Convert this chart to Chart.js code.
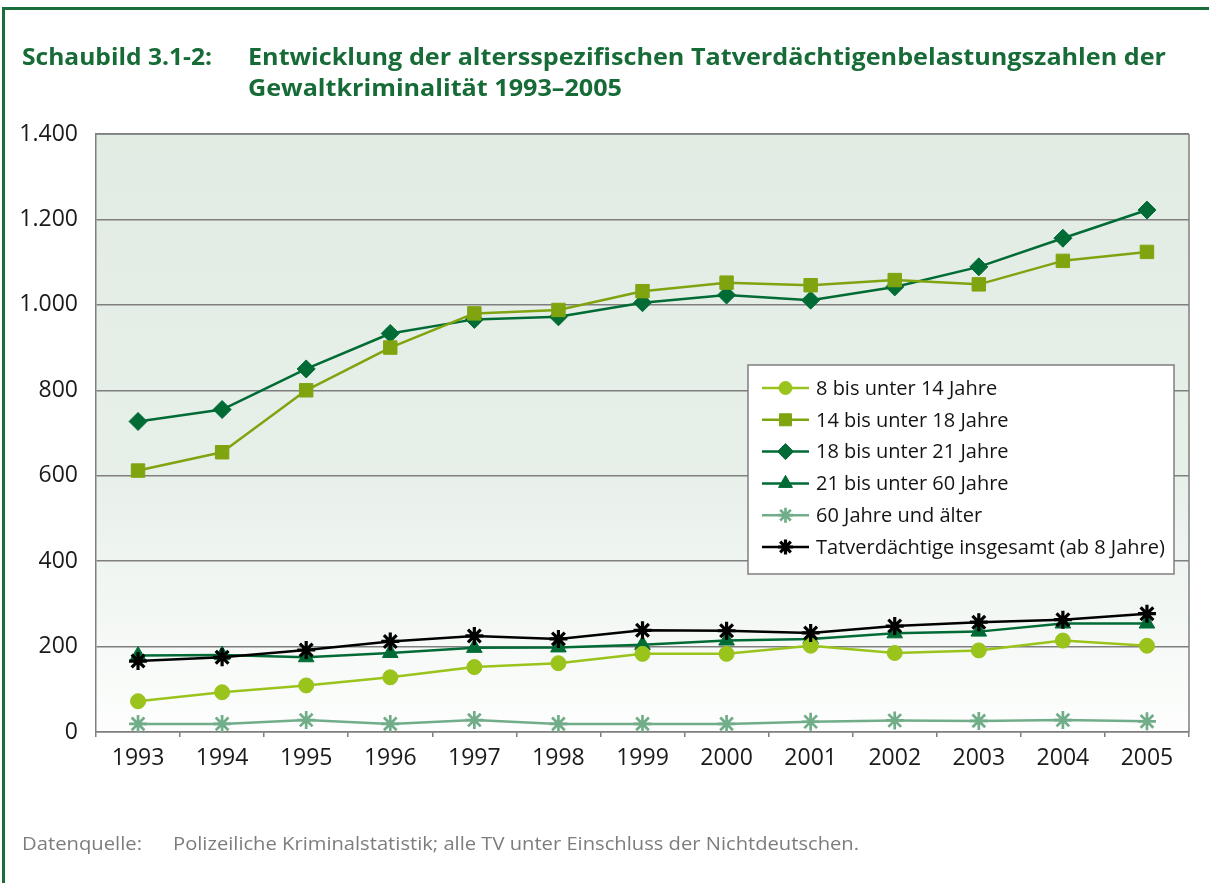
<!DOCTYPE html>
<html><head><meta charset="utf-8">
<script src="https://cdn.jsdelivr.net/npm/chart.js@4.4.1/dist/chart.umd.min.js"></script>
<style>
html,body{margin:0;padding:0;background:#fff;width:1209px;height:883px;overflow:hidden;font-family:"Open Sans",sans-serif;}
#frame{position:absolute;left:2px;top:7px;width:1230px;height:900px;border-top:3px solid #1b6e3c;border-left:3px solid #1b6e3c;}
#chartwrap{position:absolute;left:0;top:0;width:1209px;height:883px;}
.t{position:absolute;white-space:nowrap;transform-origin:0 50%;display:inline-block;}
.title{color:#176b37;font-weight:700;font-size:23.5px;line-height:31px;}
.foot{color:#7d7d7d;font-size:18.5px;line-height:24px;}
</style></head><body>
<div id="frame"></div>
<div id="chartwrap"><canvas id="c" width="1209" height="883"></canvas></div>
<div class="t title" data-w="190" style="left:22px;top:41px">Schaubild 3.1-2:</div>
<div class="t title" data-w="918" style="left:248px;top:41px">Entwicklung der altersspezifischen Tatverdächtigenbelastungszahlen der</div>
<div class="t title" data-w="374" style="left:248px;top:72px">Gewaltkriminalität 1993–2005</div>
<div class="t foot" data-w="120" style="left:22px;top:831px">Datenquelle:</div>
<div class="t foot" data-w="686" style="left:173px;top:831px">Polizeiliche Kriminalstatistik; alle TV unter Einschluss der Nichtdeutschen.</div>
<script>
const years = ['1993','1994','1995','1996','1997','1998','1999','2000','2001','2002','2003','2004','2005'];
const yTickLabels = ['0','200','400','600','800','1.000','1.200','1.400'];
const seriesNames = ['8 bis unter 14 Jahre','14 bis unter 18 Jahre','18 bis unter 21 Jahre','21 bis unter 60 Jahre','60 Jahre und älter','Tatverdächtige insgesamt (ab 8 Jahre)'];
const age8to14  = [72, 93, 109, 128, 152, 161, 183, 183, 202, 185, 191, 214, 202];
const age14to18 = [612, 655, 800, 900, 980, 988, 1032, 1052, 1046, 1058, 1048, 1103, 1124];
const age18to21 = [727, 755, 850, 933, 966, 972, 1005, 1023, 1011, 1042, 1089, 1156, 1222];
const age21to60 = [179, 180, 175, 185, 197, 198, 204, 214, 218, 231, 235, 254, 254];
const age60plus = [19, 19, 28, 19, 28, 19, 19, 19, 24, 27, 26, 28, 25];
const totalAll  = [166, 175, 192, 212, 225, 218, 238, 237, 232, 248, 257, 263, 277];

document.querySelectorAll('.t[data-w]').forEach(el=>{
  const w = el.getBoundingClientRect().width;
  const target = +el.dataset.w;
  if (w>0) el.style.transform = 'scaleX(' + (target/w) + ')';
});

function ds(label, data, color, style, radius, bw, order){
  return {label, data, borderColor:color, backgroundColor:color, pointBackgroundColor:color,
    pointBorderColor:color, pointStyle:style, pointRadius:radius, pointHoverRadius:radius,
    pointBorderWidth:bw, borderWidth:2.5, tension:0, order, fill:false};
}
const datasets = [
  ds(seriesNames[0], age8to14, '#9ac31c', 'circle', 7.5, 1, 2),
  ds(seriesNames[1], age14to18, '#7fa40f', 'rect', 9.5, 1, 1),
  ds(seriesNames[2], age18to21, '#006b35', 'rectRot', 9, 1, 4),
  ds(seriesNames[3], age21to60, '#006b35', 'triangle', 9, 1, 3),
  ds(seriesNames[4], age60plus, '#72ad89', 'star', 9, 2.7, 5),
  ds(seriesNames[5], totalAll, '#000000', 'star', 9, 3.2, 0)
];

const bgPlugin = {
  id:'bg',
  beforeDraw(chart){
    const {ctx, chartArea:a} = chart;
    const g = ctx.createLinearGradient(0, a.top, 0, a.bottom);
    g.addColorStop(0, '#e1ece3');
    g.addColorStop(0.55, '#e7efe9');
    g.addColorStop(1, '#fdfefd');
    ctx.save(); ctx.fillStyle = g; ctx.fillRect(a.left, a.top, a.right-a.left, a.bottom-a.top); ctx.restore();
  },
  beforeDatasetsDraw(chart){
    const {ctx, chartArea:a} = chart;
    ctx.save(); ctx.strokeStyle = '#7f7f7f'; ctx.lineWidth = 1.5;
    ctx.beginPath(); ctx.moveTo(a.right, a.top); ctx.lineTo(a.right, a.bottom); ctx.stroke();
    ctx.beginPath(); ctx.moveTo(a.left, a.top); ctx.lineTo(a.right, a.top); ctx.stroke();
    ctx.restore();
  }
};

const legendPlugin = {
  id:'customLegend',
  afterDraw(chart){
    const ctx = chart.ctx;
    const box = {x:748, y:365, w:426, h:209};
    ctx.save();
    ctx.fillStyle = '#ffffff'; ctx.fillRect(box.x, box.y, box.w, box.h);
    ctx.strokeStyle = '#7f7f7f'; ctx.lineWidth = 1.5; ctx.strokeRect(box.x, box.y, box.w, box.h);
    chart.data.datasets.forEach((d, i)=>{
      const y = 388 + i*31.8;
      ctx.strokeStyle = d.borderColor; ctx.lineWidth = 2.5;
      ctx.beginPath(); ctx.moveTo(762, y); ctx.lineTo(809, y); ctx.stroke();
      ctx.fillStyle = d.backgroundColor; ctx.strokeStyle = d.borderColor; ctx.lineWidth = d.pointBorderWidth;
      const r = d.pointStyle==='rect'?8.5:(d.pointStyle==='circle'?6.5:(d.pointStyle==='star'?7.5:8));
      Chart.helpers.drawPoint(ctx, {pointStyle:d.pointStyle, radius:r, rotation:0, borderWidth:d.pointBorderWidth}, 785.5, y);
      ctx.fillStyle = '#141414'; ctx.font = '20px "Open Sans"'; ctx.textBaseline = 'middle'; ctx.textAlign='left';
      ctx.fillText(d.label, 816, y+1);
    });
    ctx.restore();
  }
};

new Chart(document.getElementById('c'), {
  type:'line',
  data:{labels:years, datasets},
  options:{
    responsive:false, animation:false, devicePixelRatio:1,
    layout:{padding:{top:134, right:20, left:0, bottom:0}},
    plugins:{legend:{display:false}, tooltip:{enabled:false}, title:{display:false}},
    elements:{line:{borderCapStyle:'round', borderJoinStyle:'round'}},
    scales:{
      x:{
        offset:true,
        grid:{offset:true, drawOnChartArea:false, drawTicks:true, tickLength:5, color:'#7f7f7f', lineWidth:1.5},
        border:{display:true, color:'#7f7f7f', width:1.5},
        ticks:{padding:8, font:{family:'Open Sans', size:23}, color:'#1a1a1a', maxRotation:0, autoSkip:false},
        afterFit(s){ s.height = 151; }
      },
      y:{
        min:0, max:1400,
        grid:{color:'#7f7f7f', lineWidth:1.5, drawTicks:false},
        border:{display:true, color:'#7f7f7f', width:1.5},
        ticks:{stepSize:200, padding:18, font:{family:'Open Sans', size:23}, color:'#1a1a1a',
          callback:(v,i)=>yTickLabels[i]},
        afterFit(s){ s.width = 96; }
      }
    }
  },
  plugins:[bgPlugin, legendPlugin]
});
</script>
</body></html>
